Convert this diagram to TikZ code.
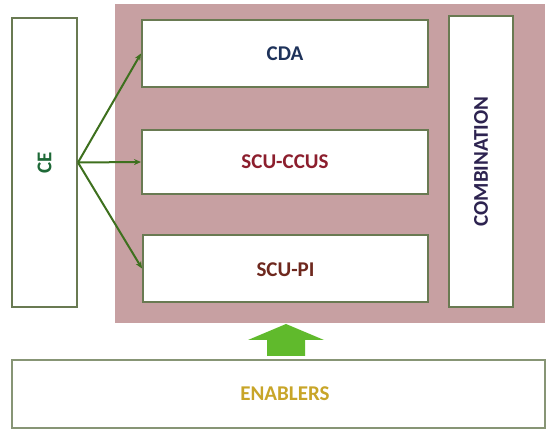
\documentclass[tikz,border=0pt]{standalone}
\usepackage{fontspec}
\setmainfont{Carlito}
\usetikzlibrary{arrows.meta}
\definecolor{pinkbg}{RGB}{199,160,162}
\definecolor{boxline}{RGB}{105,122,82}
\definecolor{arrgreen}{RGB}{62,112,30}
\definecolor{bigarrow}{RGB}{96,186,44}
\definecolor{cdacol}{RGB}{30,50,90}
\definecolor{ccuscol}{RGB}{140,30,45}
\definecolor{picol}{RGB}{110,40,30}
\definecolor{encol}{RGB}{200,165,40}
\definecolor{combcol}{RGB}{45,35,80}
\definecolor{cecol}{RGB}{30,105,55}
\tikzset{
  wbox/.style={draw=boxline, line width=2pt, fill=white, inner sep=0pt},
  lbl/.style={font=\bfseries\fontsize{21}{21}\selectfont},
  link/.style={draw=arrgreen, line width=2pt, -{Stealth[length=7pt,width=6pt]}}
}
\begin{document}
\begin{tikzpicture}[x=1pt,y=-1pt]
\useasboundingbox[fill=white] (0,0) rectangle (547,430);
% background panel
\fill[pinkbg] (115,4) rectangle (545,323);
% boxes
\node[wbox, minimum width=65pt, minimum height=289pt] (ce) at (44.5,162.5) {};
\node[wbox, minimum width=286pt, minimum height=67pt] (cda) at (285,53.5) {};
\node[wbox, minimum width=286pt, minimum height=64pt] (ccus) at (285,162) {};
\node[wbox, minimum width=285pt, minimum height=67pt] (pi) at (285.5,268.5) {};
\node[wbox, minimum width=64pt, minimum height=291pt] (comb) at (481,161.5) {};
\node[wbox, draw=boxline!80, minimum width=533pt, minimum height=68pt] (en) at (278.5,394) {};
% labels
\node[lbl, text=cecol, rotate=90] (cet) at (ce.center) {CE};
\node[lbl, text=cdacol] (cdat) at (cda.center) {CDA};
\node[lbl, text=ccuscol] (ccust) at (ccus.center) {SCU-CCUS};
\node[lbl, text=picol] (pit) at ([yshift=-1pt]pi.center) {SCU-PI};
\node[lbl, text=combcol, rotate=90] (combt) at (comb.center) {COMBINATION};
\node[lbl, text=encol] (ent) at ([xshift=6.5pt]en.center) {ENABLERS};
% arrows from CE
\coordinate (src) at (ce.east);
\draw[link] (src) -- (cda.west);
\draw[link] (src) -- (ccus.west);
\draw[link] (src) -- (pi.west);
% big upward arrow
\fill[bigarrow] (267,356) -- (267,340) -- (248,340) -- (286,324) -- (324,340) -- (305,340) -- (305,356) -- cycle;
\end{tikzpicture}
\end{document}
